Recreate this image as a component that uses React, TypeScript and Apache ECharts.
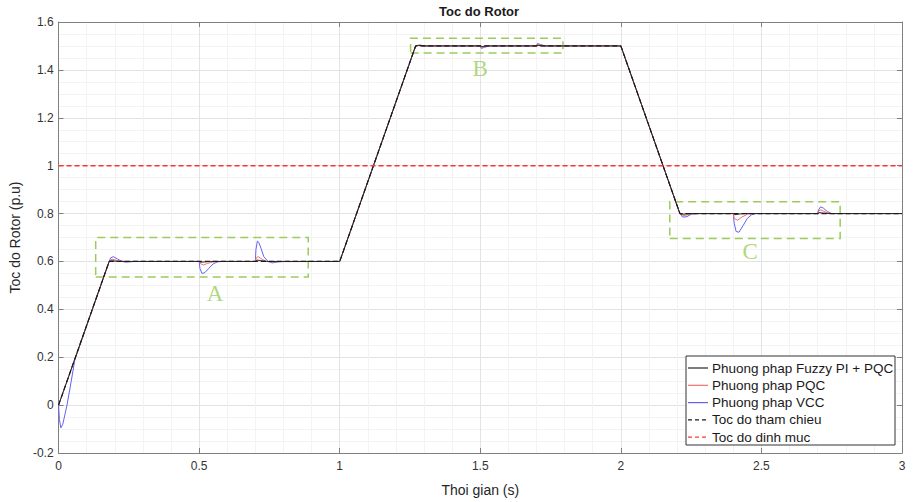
import { useEffect, useRef } from "react";
import * as echarts from "echarts";

// Reference speed profile [time (s), speed (p.u)]
const refSpeed: number[][] = [
  [0, 0], [0.18, 0.6], [1.0, 0.6], [1.27, 1.5], [2.0, 1.5], [2.21, 0.8], [3.0, 0.8],
];

// Rated speed
const ratedSpeed: number[][] = [[0, 1], [3, 1]];

// Fuzzy PI + PQC
const fuzzySpeed: number[][] = [
  [0, 0], [0.18, 0.6], [0.19, 0.603], [0.21, 0.6], [0.5, 0.6], [0.505, 0.597], [0.52, 0.598],
  [0.54, 0.6], [0.7, 0.6], [0.705, 0.606], [0.72, 0.603], [0.74, 0.6], [1.0, 0.6], [1.27, 1.5],
  [1.28, 1.502], [1.3, 1.5], [1.5, 1.5], [1.505, 1.497], [1.52, 1.5], [1.7, 1.5], [1.705, 1.503],
  [1.72, 1.5], [2.0, 1.5], [2.21, 0.8], [2.22, 0.797], [2.24, 0.8], [2.4, 0.8], [2.405, 0.795],
  [2.42, 0.798], [2.44, 0.8], [2.7, 0.8], [2.705, 0.804], [2.72, 0.802], [2.74, 0.8], [3, 0.8],
];

// PQC
const pqcSpeed: number[][] = [
  [0, 0], [0.03, 0.1], [0.06, 0.2], [0.18, 0.6], [0.19, 0.61], [0.21, 0.603], [0.24, 0.6],
  [0.5, 0.6], [0.505, 0.59], [0.515, 0.585], [0.53, 0.592], [0.55, 0.598], [0.57, 0.6],
  [0.7, 0.6], [0.703, 0.615], [0.71, 0.62], [0.725, 0.608], [0.74, 0.6], [0.76, 0.599],
  [1.0, 0.6], [1.27, 1.5], [1.285, 1.505], [1.3, 1.5], [1.5, 1.5], [1.505, 1.493],
  [1.515, 1.497], [1.53, 1.5], [1.7, 1.5], [1.703, 1.508], [1.715, 1.504], [1.73, 1.5],
  [2.0, 1.5], [2.21, 0.8], [2.22, 0.79], [2.24, 0.796], [2.26, 0.8], [2.4, 0.8], [2.403, 0.78],
  [2.415, 0.772], [2.43, 0.785], [2.45, 0.797], [2.47, 0.8], [2.7, 0.8], [2.703, 0.812],
  [2.712, 0.815], [2.73, 0.805], [2.75, 0.8], [3, 0.8],
];

// VCC
const vccSpeed: number[][] = [
  [0, 0], [0.003, -0.06], [0.008, -0.095], [0.015, -0.08], [0.03, 0.0], [0.045, 0.1],
  [0.058, 0.19], [0.07, 0.23], [0.18, 0.6], [0.185, 0.615], [0.195, 0.62], [0.21, 0.61],
  [0.225, 0.6], [0.24, 0.597], [0.27, 0.6], [0.5, 0.6], [0.503, 0.57], [0.51, 0.55],
  [0.52, 0.553], [0.535, 0.572], [0.55, 0.59], [0.565, 0.598], [0.58, 0.6], [0.7, 0.6],
  [0.702, 0.65], [0.707, 0.685], [0.712, 0.68], [0.72, 0.655], [0.73, 0.62], [0.745, 0.6],
  [0.76, 0.594], [0.78, 0.598], [0.8, 0.6], [1.0, 0.6], [1.27, 1.5], [1.28, 1.502], [1.3, 1.5],
  [1.5, 1.5], [1.503, 1.49], [1.515, 1.494], [1.53, 1.5], [1.7, 1.5], [1.703, 1.51],
  [1.715, 1.506], [1.73, 1.5], [2.0, 1.5], [2.21, 0.8], [2.22, 0.785], [2.235, 0.787],
  [2.25, 0.797], [2.27, 0.8], [2.4, 0.8], [2.403, 0.76], [2.41, 0.725], [2.42, 0.722],
  [2.435, 0.75], [2.45, 0.78], [2.465, 0.795], [2.48, 0.8], [2.7, 0.8], [2.703, 0.815],
  [2.71, 0.828], [2.72, 0.823], [2.735, 0.808], [2.75, 0.8], [3, 0.8],
];

// Zoom boxes [t0, v0, t1, v1]
const zoomBoxes: number[][] = [
  [0.132, 0.535, 0.888, 0.7],
  [1.252, 1.471, 1.794, 1.532],
  [2.174, 0.696, 2.78, 0.849],
];
// Box labels [t, v, name]
const boxLabels: (number | string)[][] = [
  [0.557, 0.468, "A"],
  [1.5, 1.407, "B"],
  [2.46, 0.64, "C"],
];

const seriesNames = [
  "Phuong phap Fuzzy PI + PQC",
  "Phuong phap PQC",
  "Phuong phap VCC",
  "Toc do tham chieu",
  "Toc do dinh muc",
];
const seriesColors = ["#262626", "#f07070", "#6262f0", "#1a1a1a", "#ff3333"];
const seriesDashed = [false, false, false, true, true];

const FONT = "Liberation Sans, Arial, Helvetica, sans-serif";
const GREEN = "#9ccc5c";

export default function App() {
  const ref = useRef<HTMLDivElement>(null);
  useEffect(() => {
    document.body.style.margin = "0";
    const chart = echarts.init(ref.current!, null, { renderer: "svg" });
    const axisCommon = {
      axisLine: { show: true, onZero: false, lineStyle: { color: "#808080", width: 1 } },
      axisTick: { show: true, inside: true, length: 5, lineStyle: { color: "#808080" } },
    };

    // Legend drawn as graphic elements
    const legX = 686;
    const legY = 356;
    const legW = 209;
    const legH = 89;
    const rowY0 = 368;
    const rowStep = 17.3;
    const legendEls: any[] = [
      {
        type: "rect",
        shape: { x: legX, y: legY, width: legW, height: legH },
        style: { fill: "#ffffff", stroke: "#333333", lineWidth: 1 },
        z: 100,
      },
    ];
    seriesNames.forEach((n, i) => {
      const y = rowY0 + i * rowStep;
      legendEls.push({
        type: "line",
        shape: { x1: legX + 2, y1: y, x2: legX + 22, y2: y },
        style: {
          stroke: seriesColors[i],
          lineWidth: 1.2,
          lineDash: seriesDashed[i] ? [4, 3] : null,
        },
        z: 101,
      });
      legendEls.push({
        type: "text",
        x: legX + 26,
        y,
        style: {
          text: n,
          font: `13.5px ${FONT}`,
          fill: "#1a1a1a",
          textVerticalAlign: "middle",
        },
        z: 101,
      });
    });

    chart.setOption({
      animation: false,
      backgroundColor: "#ffffff",
      textStyle: { fontFamily: FONT },
      grid: { left: 56, right: 11, top: 22, bottom: 49 },
      graphic: [
        {
          type: "text",
          x: 479,
          y: 11,
          style: {
            text: "Toc do Rotor",
            font: `bold 13px ${FONT}`,
            fill: "#1a1a1a",
            textAlign: "center",
            textVerticalAlign: "middle",
          },
        },
        ...legendEls,
      ],
      xAxis: [
        {
          type: "value",
          min: 0,
          max: 3,
          interval: 0.5,
          name: "Thoi gian (s)",
          nameLocation: "middle",
          nameGap: 30,
          nameTextStyle: { fontSize: 14, color: "#262626" },
          ...axisCommon,
          axisLabel: { fontSize: 12, color: "#333333", margin: 7 },
          splitLine: { show: true, lineStyle: { color: "#e3e3e3", width: 1 } },
          minorSplitLine: { show: true, lineStyle: { color: "#f3f3f3", width: 1 } },
          minorTick: { show: false, splitNumber: 5 },
        },
        {
          type: "value",
          position: "top",
          min: 0,
          max: 3,
          interval: 0.5,
          ...axisCommon,
          axisLabel: { show: false },
          splitLine: { show: false },
        },
      ],
      yAxis: [
        {
          type: "value",
          min: -0.2,
          max: 1.6,
          interval: 0.2,
          name: "Toc do Rotor (p.u)",
          nameLocation: "middle",
          nameGap: 35,
          nameTextStyle: { fontSize: 14, color: "#262626" },
          ...axisCommon,
          axisLabel: {
            fontSize: 12,
            color: "#333333",
            margin: 5,
            formatter: (v: number) => String(Math.round(v * 10) / 10),
          },
          splitLine: { show: true, lineStyle: { color: "#e3e3e3", width: 1 } },
          minorSplitLine: { show: true, lineStyle: { color: "#f3f3f3", width: 1 } },
          minorTick: { show: false, splitNumber: 4 },
        },
        {
          type: "value",
          position: "right",
          min: -0.2,
          max: 1.6,
          interval: 0.2,
          ...axisCommon,
          axisLabel: { show: false },
          splitLine: { show: false },
        },
      ],
      series: [
        {
          name: seriesNames[0],
          type: "line",
          data: fuzzySpeed,
          symbol: "none",
          lineStyle: { color: seriesColors[0], width: 1 },
          z: 4,
        },
        {
          name: seriesNames[1],
          type: "line",
          data: pqcSpeed,
          symbol: "none",
          lineStyle: { color: seriesColors[1], width: 1 },
          z: 3,
        },
        {
          name: seriesNames[2],
          type: "line",
          data: vccSpeed,
          symbol: "none",
          lineStyle: { color: seriesColors[2], width: 1 },
          z: 2,
        },
        {
          name: seriesNames[3],
          type: "line",
          data: refSpeed,
          symbol: "none",
          lineStyle: { color: seriesColors[3], width: 1.2, type: [5, 3] },
          z: 5,
        },
        {
          name: seriesNames[4],
          type: "line",
          data: ratedSpeed,
          symbol: "none",
          lineStyle: { color: seriesColors[4], width: 1.5, type: [5, 3] },
          z: 5,
          markArea: {
            silent: true,
            itemStyle: {
              color: "rgba(0,0,0,0)",
              borderColor: GREEN,
              borderWidth: 1.5,
              borderType: [8, 5],
            },
            data: zoomBoxes.map((b) => [
              { coord: [b[0], b[1]] },
              { coord: [b[2], b[3]] },
            ]),
          },
        },
        {
          name: "labels",
          type: "scatter",
          data: boxLabels,
          symbolSize: 1,
          itemStyle: { color: "rgba(0,0,0,0)" },
          silent: true,
          z: 6,
          label: {
            show: true,
            position: "inside",
            formatter: (p: any) => p.value[2],
            fontFamily: "Liberation Serif, DejaVu Serif, serif",
            fontSize: 23,
            color: GREEN,
          },
        },
      ],
    });
    return () => chart.dispose();
  }, []);
  return <div ref={ref} style={{ width: 913, height: 502 }} />;
}
